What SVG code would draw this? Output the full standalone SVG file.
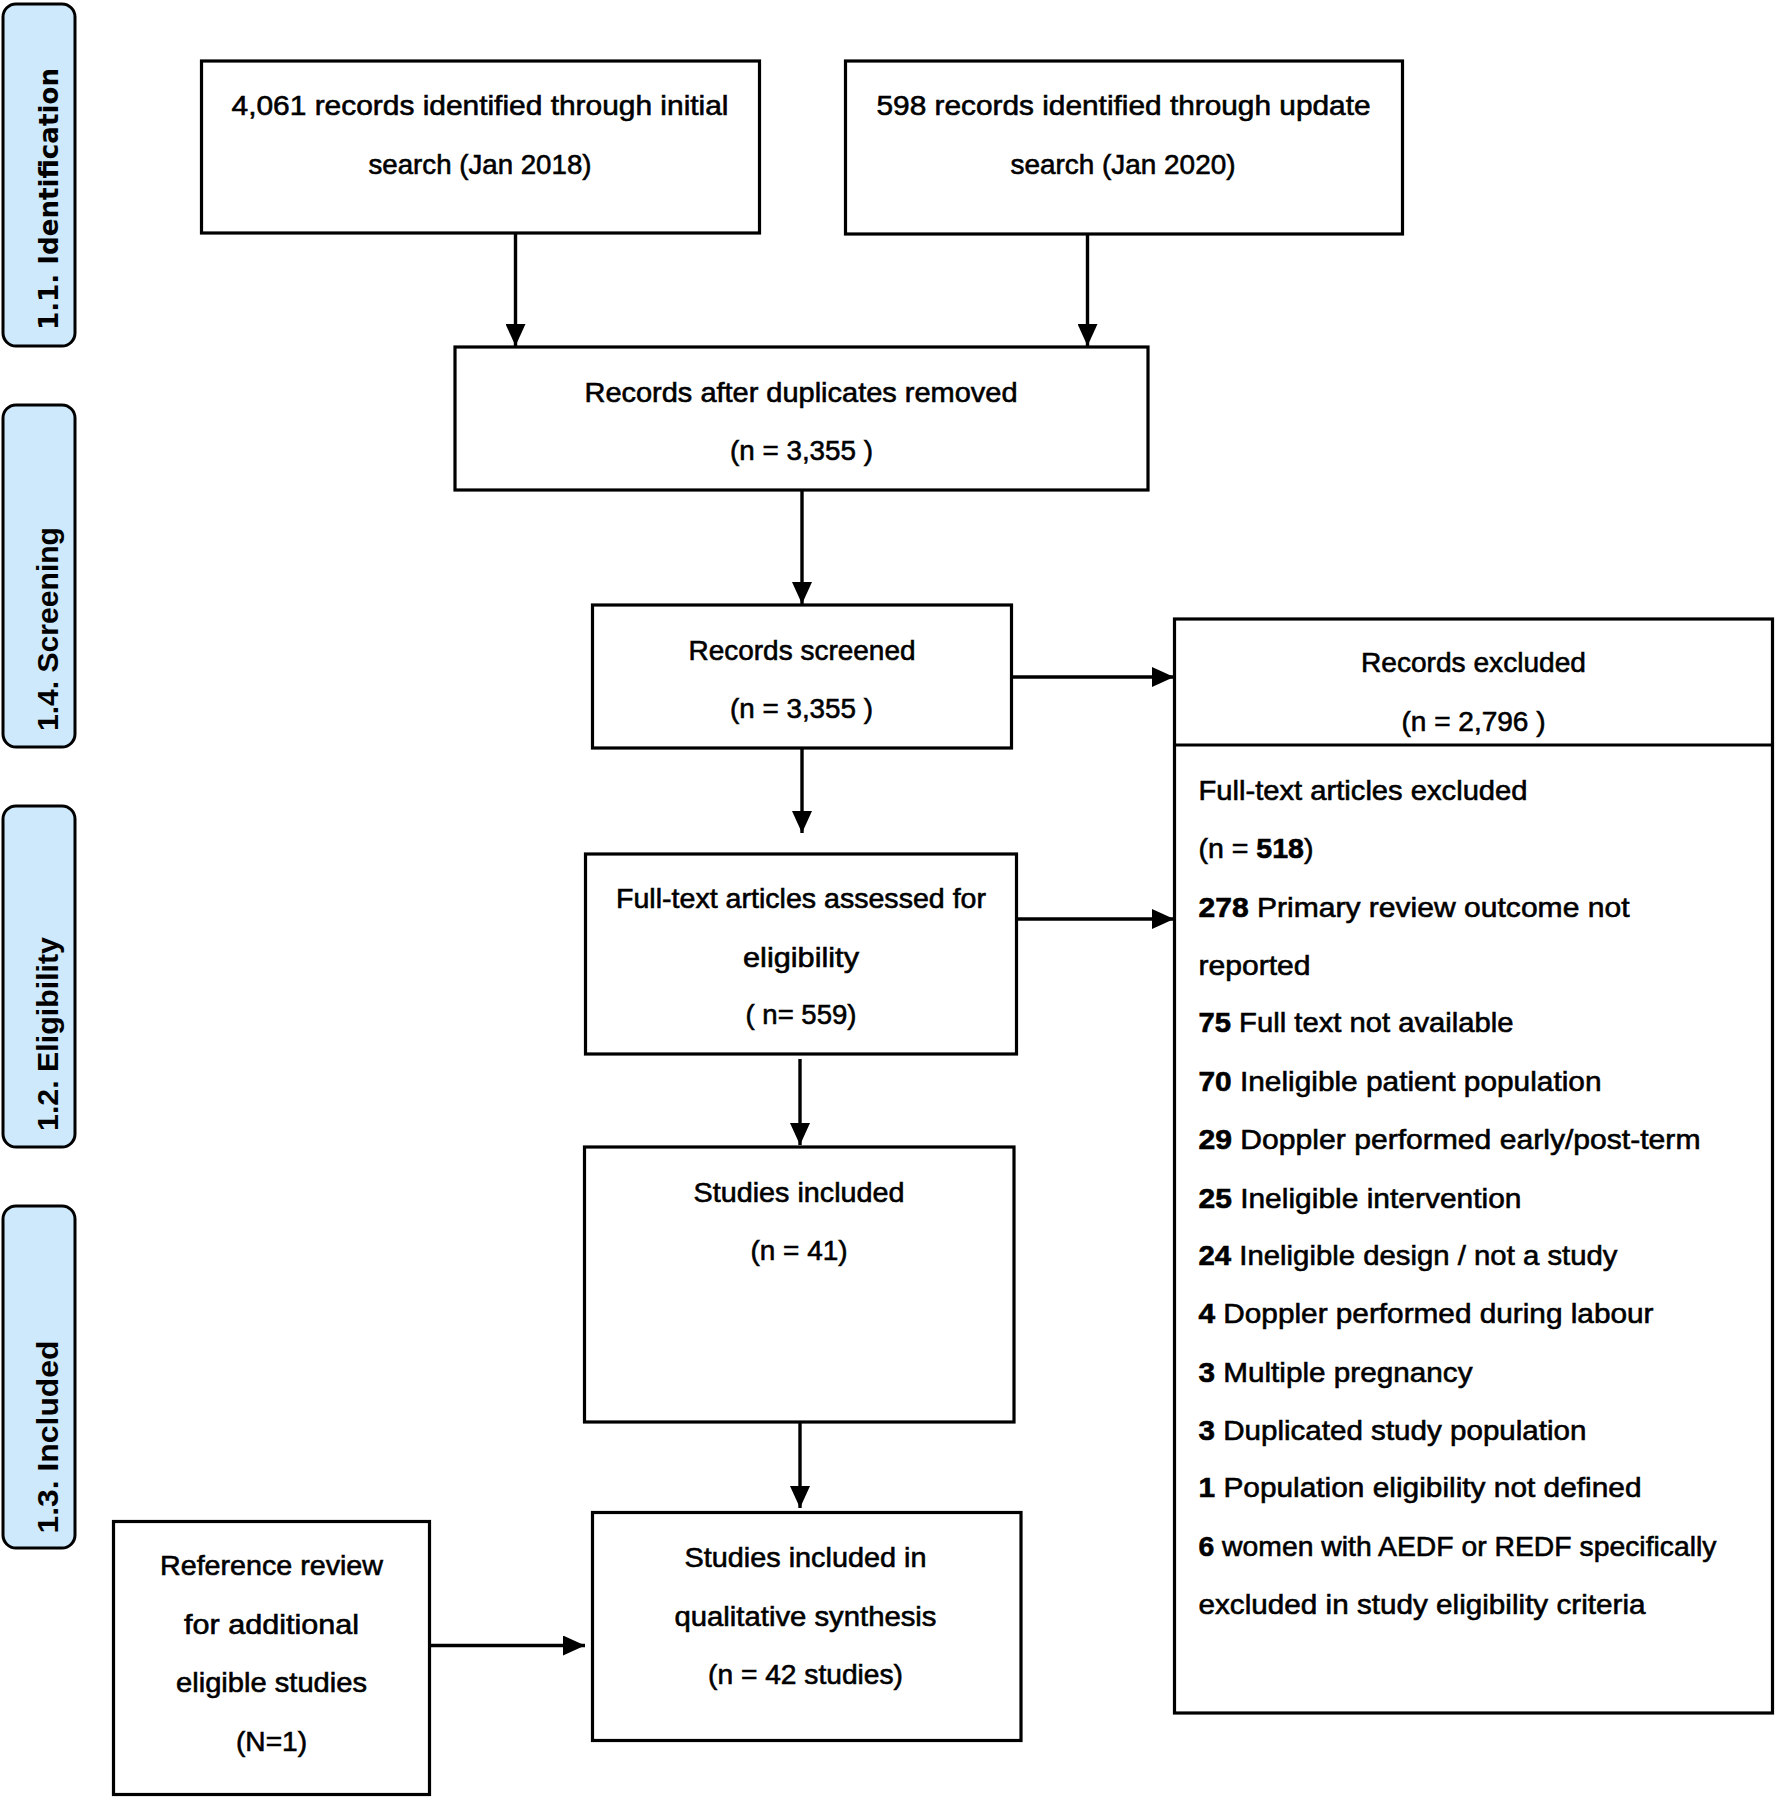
<svg xmlns="http://www.w3.org/2000/svg" width="1776" height="1797" viewBox="0 0 1776 1797">
<style>
.box{fill:#fff;stroke:#000;stroke-width:3.2}
.side{fill:#cde9fb;stroke:#000;stroke-width:3}
.t{font-family:"Liberation Sans",Arial,sans-serif;font-size:28px;fill:#000;stroke:#000;stroke-width:0.6}
.c{text-anchor:middle}
.b{font-weight:bold}
.sl{font-family:"Liberation Sans",Arial,sans-serif;font-size:30px;font-weight:bold;fill:#000;text-anchor:middle}
.conn{stroke:#000;stroke-width:3.4;fill:none;marker-end:url(#ah)}
</style>
<defs>
<marker id="ah" markerUnits="userSpaceOnUse" markerWidth="24" markerHeight="20" refX="22" refY="10" orient="auto">
<path d="M0,0 L22,10 L0,20 Z" fill="#000"/>
</marker>
</defs>
<rect width="1776" height="1797" fill="#fff"/>

<g id="side-identification">
<rect class="side" x="3" y="4" width="72" height="342" rx="13"/>
<text class="sl" style="font-family:'DejaVu Sans',Verdana,sans-serif;font-size:27px" transform="translate(58,199) rotate(-90)" textLength="262" lengthAdjust="spacingAndGlyphs">1.1.  Identification</text>
</g>
<g id="side-screening">
<rect class="side" x="3" y="405" width="72" height="342" rx="13"/>
<text class="sl" transform="translate(58,629) rotate(-90)" textLength="204" lengthAdjust="spacingAndGlyphs">1.4.  Screening</text>
</g>
<g id="side-eligibility">
<rect class="side" x="3" y="806" width="72" height="341" rx="13"/>
<text class="sl" transform="translate(58,1034) rotate(-90)" textLength="194" lengthAdjust="spacingAndGlyphs">1.2.  Eligibility</text>
</g>
<g id="side-included">
<rect class="side" x="3" y="1206" width="72" height="342" rx="13"/>
<text class="sl" transform="translate(58,1437) rotate(-90)" textLength="193" lengthAdjust="spacingAndGlyphs">1.3.  Included</text>
</g>

<g id="connectors">
<line class="conn" x1="515.5" y1="233" x2="515.5" y2="346"/>
<line class="conn" x1="1087.5" y1="234" x2="1087.5" y2="346"/>
<line class="conn" x1="802" y1="490" x2="802" y2="604"/>
<line class="conn" x1="1012" y1="677" x2="1174" y2="677"/>
<line class="conn" x1="802" y1="748" x2="802" y2="833"/>
<line class="conn" x1="1016" y1="919" x2="1174" y2="919"/>
<line class="conn" x1="800" y1="1059" x2="800" y2="1145"/>
<line class="conn" x1="800" y1="1422" x2="800" y2="1508"/>
<line class="conn" x1="430" y1="1645.5" x2="585" y2="1645.5"/>
</g>

<g id="initial-search">
<rect class="box" x="201.5" y="61" width="558" height="172"/>
<text class="t c" x="480" y="115" textLength="497" lengthAdjust="spacingAndGlyphs">4,061 records identified through initial</text>
<text class="t c" x="480" y="174" textLength="223" lengthAdjust="spacingAndGlyphs">search (Jan 2018)</text>
</g>
<g id="update-search">
<rect class="box" x="845.5" y="61" width="557" height="173"/>
<text class="t c" x="1123.5" y="115" textLength="494" lengthAdjust="spacingAndGlyphs">598 records identified through update</text>
<text class="t c" x="1123" y="174" textLength="225" lengthAdjust="spacingAndGlyphs">search (Jan 2020)</text>
</g>
<g id="duplicates-removed">
<rect class="box" x="455" y="347" width="693" height="143"/>
<text class="t c" x="801" y="402" textLength="433" lengthAdjust="spacingAndGlyphs">Records after duplicates removed</text>
<text class="t c" x="801.5" y="460" textLength="143" lengthAdjust="spacingAndGlyphs">(n = 3,355 )</text>
</g>
<g id="records-screened">
<rect class="box" x="592.5" y="605" width="419" height="143"/>
<text class="t c" x="802" y="660" textLength="227" lengthAdjust="spacingAndGlyphs">Records screened</text>
<text class="t c" x="801.5" y="718" textLength="143" lengthAdjust="spacingAndGlyphs">(n = 3,355 )</text>
</g>
<g id="excluded">
<rect class="box" x="1174.5" y="619" width="598" height="1094"/>
<line x1="1174.5" y1="745" x2="1772.5" y2="745" stroke="#000" stroke-width="3.2"/>
<text class="t c" x="1473.5" y="672" textLength="225" lengthAdjust="spacingAndGlyphs">Records excluded</text>
<text class="t c" x="1473.5" y="731" textLength="144" lengthAdjust="spacingAndGlyphs">(n = 2,796 )</text>
<text class="t" x="1198.5" y="799.5" textLength="329" lengthAdjust="spacingAndGlyphs">Full-text articles excluded</text>
<text class="t" x="1198.5" y="858" textLength="115" lengthAdjust="spacingAndGlyphs">(n = <tspan class="b">518</tspan>)</text>
<text class="t" x="1198.5" y="916.5" textLength="431" lengthAdjust="spacingAndGlyphs"><tspan class="b">278</tspan>  Primary review outcome not</text>
<text class="t" x="1198.5" y="975" textLength="112" lengthAdjust="spacingAndGlyphs">reported</text>
<text class="t" x="1198.5" y="1032" textLength="315" lengthAdjust="spacingAndGlyphs"><tspan class="b">75</tspan> Full text not available</text>
<text class="t" x="1198.5" y="1090.5" textLength="403" lengthAdjust="spacingAndGlyphs"><tspan class="b">70</tspan> Ineligible patient population</text>
<text class="t" x="1198.5" y="1149" textLength="502" lengthAdjust="spacingAndGlyphs"><tspan class="b">29</tspan> Doppler performed early/post-term</text>
<text class="t" x="1198.5" y="1207.5" textLength="323" lengthAdjust="spacingAndGlyphs"><tspan class="b">25</tspan> Ineligible intervention</text>
<text class="t" x="1198.5" y="1264.5" textLength="419" lengthAdjust="spacingAndGlyphs"><tspan class="b">24</tspan> Ineligible design / not a study</text>
<text class="t" x="1198.5" y="1323" textLength="455" lengthAdjust="spacingAndGlyphs"><tspan class="b">4</tspan> Doppler performed during labour</text>
<text class="t" x="1198.5" y="1381.5" textLength="274" lengthAdjust="spacingAndGlyphs"><tspan class="b">3</tspan> Multiple pregnancy</text>
<text class="t" x="1198.5" y="1440" textLength="388" lengthAdjust="spacingAndGlyphs"><tspan class="b">3</tspan> Duplicated study population</text>
<text class="t" x="1198.5" y="1497" textLength="443" lengthAdjust="spacingAndGlyphs"><tspan class="b">1</tspan> Population eligibility not defined</text>
<text class="t" x="1198.5" y="1555.5" textLength="518" lengthAdjust="spacingAndGlyphs"><tspan class="b">6</tspan> women with AEDF or REDF specifically</text>
<text class="t" x="1198.5" y="1614" textLength="447" lengthAdjust="spacingAndGlyphs">excluded in study eligibility criteria</text>
</g>
<g id="full-text-assessed">
<rect class="box" x="585.5" y="854" width="431" height="200"/>
<text class="t c" x="801" y="908" textLength="370" lengthAdjust="spacingAndGlyphs">Full-text articles assessed for</text>
<text class="t c" x="801" y="967" textLength="116" lengthAdjust="spacingAndGlyphs">eligibility</text>
<text class="t c" x="801" y="1024" textLength="111" lengthAdjust="spacingAndGlyphs">( n= 559)</text>
</g>
<g id="studies-included">
<rect class="box" x="584.5" y="1147" width="429.5" height="275"/>
<text class="t c" x="799" y="1201.5" textLength="211" lengthAdjust="spacingAndGlyphs">Studies included</text>
<text class="t c" x="799" y="1260" textLength="97" lengthAdjust="spacingAndGlyphs">(n = 41)</text>
</g>
<g id="qualitative-synthesis">
<rect class="box" x="592.5" y="1512.5" width="428.5" height="228"/>
<text class="t c" x="805.5" y="1567" textLength="242" lengthAdjust="spacingAndGlyphs">Studies included in</text>
<text class="t c" x="805.5" y="1625.5" textLength="262" lengthAdjust="spacingAndGlyphs">qualitative synthesis</text>
<text class="t c" x="805.5" y="1684" textLength="195" lengthAdjust="spacingAndGlyphs">(n = 42 studies)</text>
</g>
<g id="reference-review">
<rect class="box" x="113.5" y="1521.5" width="316" height="273"/>
<text class="t c" x="271.5" y="1575" textLength="223" lengthAdjust="spacingAndGlyphs">Reference review</text>
<text class="t c" x="271.5" y="1633.5" textLength="175" lengthAdjust="spacingAndGlyphs">for additional</text>
<text class="t c" x="271.5" y="1692" textLength="191" lengthAdjust="spacingAndGlyphs">eligible studies</text>
<text class="t c" x="271.5" y="1750.5" textLength="71" lengthAdjust="spacingAndGlyphs">(N=1)</text>
</g>
</svg>
